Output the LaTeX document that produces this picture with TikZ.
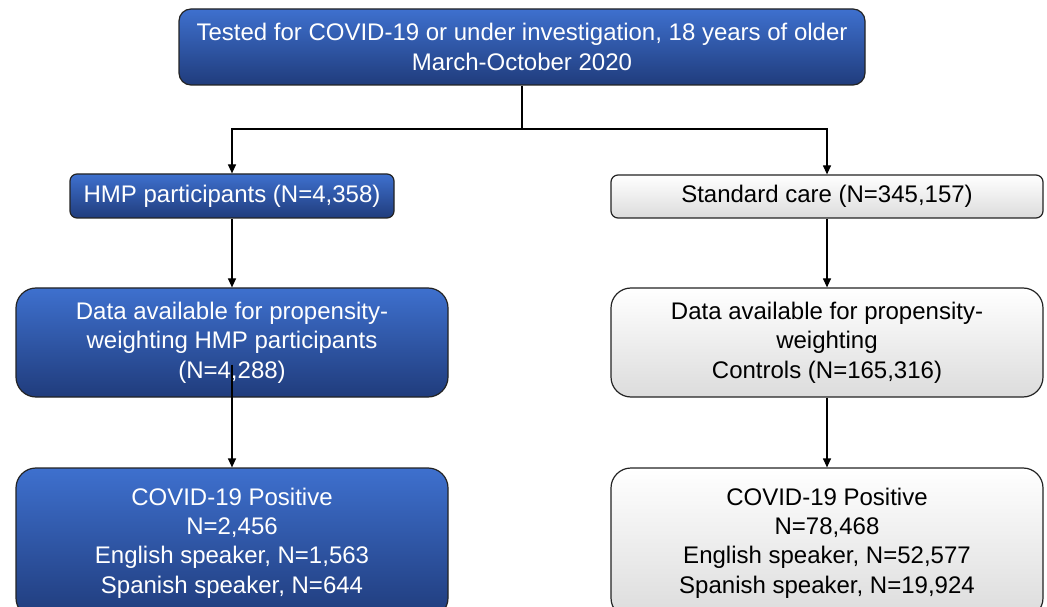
\documentclass[tikz,border=0pt]{standalone}
\usepackage{fontspec}
\setmainfont{Liberation Sans}
\usetikzlibrary{arrows.meta,shadings}
\definecolor{bluetop}{RGB}{62,112,206}
\definecolor{bluebot}{RGB}{32,60,124}
\definecolor{graybot}{RGB}{220,220,220}
\definecolor{edge}{RGB}{35,35,35}
\tikzset{
  box/.style={draw=edge, line width=1.2pt, align=center, inner sep=0pt,
    font=\fontsize{24}{29.3}\selectfont},
  bluebox/.style={box, top color=bluetop, bottom color=bluebot, text=white},
  graybox/.style={box, top color=white, bottom color=graybot, text=black},
  conn/.style={draw=black, line width=1.2pt},
  arr/.style={conn, -{Triangle[width=8pt,length=9pt]}},
}
\begin{document}
\begin{tikzpicture}[x=1pt,y=1pt]
\useasboundingbox (0,0) rectangle (1047,606);
\node[bluebox, rounded corners=12pt, minimum width=686pt, minimum height=76pt] (top) at (522,559)
  {Tested for COVID-19 or under investigation, 18 years of older\\March-October 2020};
\node[bluebox, rounded corners=7pt, minimum width=324pt, minimum height=44pt] (hmp) at (232,410)
  {HMP participants (N=4,358)};
\node[graybox, rounded corners=7pt, minimum width=432pt, minimum height=43pt] (std) at (827,409.5)
  {Standard care (N=345,157)};
\node[bluebox, rounded corners=20pt, minimum width=432pt, minimum height=109pt] (dataL) at (232,263.5)
  {Data available for propensity-\\weighting HMP participants\\(N=4,288)};
\node[graybox, rounded corners=20pt, minimum width=432pt, minimum height=109pt] (dataR) at (827,263.5)
  {Data available for propensity-\\weighting\\Controls (N=165,316)};
\node[bluebox, rounded corners=20pt, minimum width=432pt, minimum height=150pt] (botL) at (232,63)
  {COVID-19 Positive\\N=2,456\\English speaker, N=1,563\\Spanish speaker, N=644};
\node[graybox, rounded corners=20pt, minimum width=432pt, minimum height=150pt] (botR) at (827,63)
  {COVID-19 Positive\\N=78,468\\English speaker, N=52,577\\Spanish speaker, N=19,924};
\coordinate (split) at (522,477);
\draw[conn] (top.south) -- (split);
\draw[arr] (split) -| (hmp.north);
\draw[arr] (split) -| (std.north);
\draw[arr] (hmp.south) -- (dataL.north);
\draw[arr] (std.south) -- (dataR.north);
\draw[arr] ([yshift=-22pt]dataL.center) -- (botL.north);
\draw[arr] (dataR.south) -- (botR.north);
\end{tikzpicture}
\end{document}
